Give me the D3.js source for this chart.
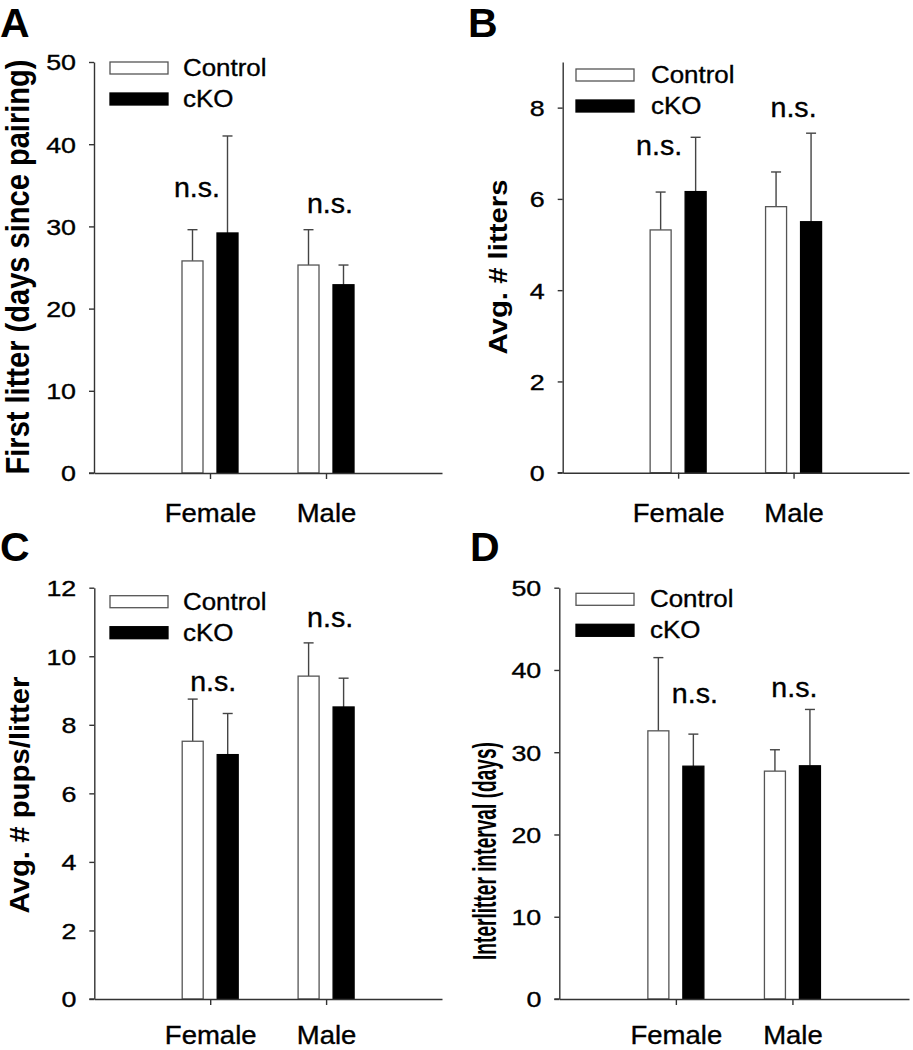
<!DOCTYPE html>
<html><head><meta charset="utf-8">
<script src="https://cdn.jsdelivr.net/npm/d3@7"></script>
<style>
body{margin:0;background:#fff}
svg{display:block}
text{font-family:"Liberation Sans",Arial,sans-serif;fill:#000}
text.reg{stroke:#000;stroke-width:0.35px}
</style>
</head><body>
<svg id="chart" width="913" height="1050"></svg>
<script>
// ---------- DATA ----------
const categories = ["Female", "Male"];
const series = ["Control", "cKO"];

// A: First litter (days since pairing)
const firstLitterControl    = [25.8, 25.3];
const firstLitterControlErr = [3.8, 4.3];
const firstLitterCKO        = [29.2, 22.9];
const firstLitterCKOErr     = [11.8, 2.4];
const firstLitterTicks      = [0, 10, 20, 30, 40, 50];

// B: Avg. # litters
const littersControl    = [5.32, 5.83];
const littersControlErr = [0.83, 0.76];
const littersCKO        = [6.16, 5.50];
const littersCKOErr     = [1.19, 1.94];
const littersTicks      = [0, 2, 4, 6, 8];

// C: Avg. # pups/litter
const pupsControl    = [7.52, 9.42];
const pupsControlErr = [1.23, 0.97];
const pupsCKO        = [7.13, 8.52];
const pupsCKOErr     = [1.20, 0.84];
const pupsTicks      = [0, 2, 4, 6, 8, 10, 12];

// D: Interlitter interval (days)
const intervalControl    = [32.6, 27.7];
const intervalControlErr = [8.9, 2.6];
const intervalCKO        = [28.3, 28.35];
const intervalCKOErr     = [3.9, 6.85];
const intervalTicks      = [0, 10, 20, 30, 40, 50];

// significance annotations (category, value-height of label)
const nsFirstLitter = [{cat: "Female", v: 33.6}, {cat: "Male", v: 31.6}];
const nsLitters     = [{cat: "Female", v: 6.96}, {cat: "Male", v: 7.79}];
const nsPups        = [{cat: "Female", v: 8.99}, {cat: "Male", v: 10.85}];
const nsInterval    = [{cat: "Female", v: 35.97}, {cat: "Male", v: 36.7}];

// ---------- LAYOUT ----------
const panels = [
  {letter: "A", title: "First litter (days since pairing)", ymax: 50, ticks: firstLitterTicks,
   ctrl: firstLitterControl, ctrlErr: firstLitterControlErr, cko: firstLitterCKO, ckoErr: firstLitterCKOErr,
   ns: nsFirstLitter, nsDx: [-13, 4],
   left: 94, right: 442, top: 62, bottom: 473, catDy: 49,
   letterX: 0, letterY: 37, titleX: 18, titleY: 267, titleLen: 415, titleSize: 29, titleK: 1.12,
   legX: 110, legY: 62, legTextX: 183},
  {letter: "B", title: "Avg. # litters", ymax: 9, ticks: littersTicks,
   ctrl: littersControl, ctrlErr: littersControlErr, cko: littersCKO, ckoErr: littersCKOErr,
   ns: nsLitters, nsDx: [-19, 0],
   left: 562.7, right: 909, top: 62, bottom: 472.7, catDy: 49,
   letterX: 468, letterY: 37, titleX: 498, titleY: 267, titleLen: 175, titleSize: 25, titleK: 1.0,
   legX: 576, legY: 69, legTextX: 651},
  {letter: "C", title: "Avg. # pups/litter", ymax: 12, ticks: pupsTicks,
   ctrl: pupsControl, ctrlErr: pupsControlErr, cko: pupsCKO, ckoErr: pupsCKOErr,
   ns: nsPups, nsDx: [3, 4],
   left: 94.3, right: 442, top: 587.7, bottom: 999, catDy: 45,
   letterX: 0, letterY: 561, titleX: 19, titleY: 795, titleLen: 237, titleSize: 28, titleK: 1.0,
   legX: 110, legY: 595.7, legTextX: 183},
  {letter: "D", title: "Interlitter interval (days)", ymax: 50, ticks: intervalTicks,
   ctrl: intervalControl, ctrlErr: intervalControlErr, cko: intervalCKO, ckoErr: intervalCKOErr,
   ns: nsInterval, nsDx: [19, 2],
   left: 559.3, right: 909, top: 587.7, bottom: 999, catDy: 45,
   letterX: 470, letterY: 561, titleX: 485, titleY: 851, titleLen: 218, titleSize: 26, titleK: 1.25,
   legX: 576, legY: 593.3, legTextX: 650}
];

const svg = d3.select("#chart");
const AX = "#333", ERR = "#444";

function drawPanel(p) {
  const g = svg.append("g");
  const y = d3.scaleLinear().domain([0, p.ymax]).range([p.bottom, p.top]);
  const x = d3.scalePoint().domain(categories).range([p.left, p.right]).padding(1);
  const xs = d3.scaleBand().domain(series).range([-28, 28]).paddingInner(0.4).paddingOuter(0);
  const bw = xs.bandwidth();

  const rows = [];
  categories.forEach((c, i) => {
    rows.push({cat: c, s: "Control", v: p.ctrl[i], e: p.ctrlErr[i]});
    rows.push({cat: c, s: "cKO", v: p.cko[i], e: p.ckoErr[i]});
  });

  // error bars
  const eb = g.append("g").attr("stroke", ERR).attr("stroke-width", 1.4).attr("fill", "none");
  rows.forEach(d => {
    const cx = x(d.cat) + xs(d.s) + bw / 2;
    eb.append("line").attr("x1", cx).attr("x2", cx).attr("y1", y(d.v)).attr("y2", y(d.v + d.e));
    eb.append("line").attr("x1", cx - 5).attr("x2", cx + 5).attr("y1", y(d.v + d.e)).attr("y2", y(d.v + d.e));
  });

  // bars
  g.append("g").selectAll("rect").data(rows).join("rect")
    .attr("x", d => x(d.cat) + xs(d.s))
    .attr("y", d => y(d.v))
    .attr("width", bw)
    .attr("height", d => p.bottom - y(d.v))
    .attr("fill", d => d.s === "Control" ? "#fff" : "#000")
    .attr("stroke", d => d.s === "Control" ? "#555" : "#000")
    .attr("stroke-width", 1.3);

  // y axis
  const ya = g.append("g").attr("transform", `translate(${p.left},0)`)
    .call(d3.axisLeft(y).tickValues(p.ticks).tickSize(5).tickSizeOuter(0).tickFormat(d3.format("d")));
  ya.attr("font-family", null).attr("font-size", null);
  ya.select(".domain").attr("stroke", AX).attr("stroke-width", 1.4);
  ya.selectAll(".tick line").attr("stroke", AX).attr("stroke-width", 1.4);
  ya.selectAll(".tick text").attr("x", 0).attr("dy", "0.36em").attr("class", "reg")
    .attr("transform", "translate(-18,0) scale(1.22,1)")
    .style("font-size", "22px");

  // x axis
  const xa = g.append("g").attr("transform", `translate(0,${p.bottom})`)
    .call(d3.axisBottom(x).tickSize(6).tickSizeOuter(0));
  xa.attr("font-family", null).attr("font-size", null);
  xa.select(".domain").attr("stroke", AX).attr("stroke-width", 1.4);
  xa.selectAll(".tick line").attr("stroke", AX).attr("stroke-width", 1.4);
  xa.selectAll(".tick text").attr("y", 0).attr("dy", 0).attr("class", "reg")
    .attr("transform", `translate(0,${p.catDy}) scale(1.1,1)`)
    .style("font-size", "25px");
  g.append("line").attr("x1", p.left - 5).attr("x2", p.left).attr("y1", p.bottom).attr("y2", p.bottom)
    .attr("stroke", AX).attr("stroke-width", 1.4);

  // legend
  const lg = g.append("g");
  series.forEach((s, i) => {
    lg.append("rect").attr("x", p.legX).attr("y", p.legY + i * 31).attr("width", 58).attr("height", 12)
      .attr("fill", s === "Control" ? "#fff" : "#000")
      .attr("stroke", s === "Control" ? "#555" : "#000").attr("stroke-width", 1.3);
    lg.append("text").attr("class", "reg")
      .attr("transform", `translate(${p.legTextX},${p.legY + 14 + i * 31}) scale(1.08,1)`)
      .style("font-size", "24px").text(s);
  });

  // n.s. annotations
  p.ns.forEach((a, i) => {
    g.append("text").attr("text-anchor", "middle").attr("class", "reg")
      .attr("transform", `translate(${x(a.cat) + p.nsDx[i]},${y(a.v)}) scale(1.06,1)`)
      .style("font-size", "27px").text("n.s.");
  });

  // y-axis title
  g.append("text").attr("text-anchor", "middle").attr("dy", "0.35em")
    .attr("transform", `translate(${p.titleX},${p.titleY}) rotate(-90) scale(1,${p.titleK})`)
    .attr("textLength", p.titleLen).attr("lengthAdjust", "spacingAndGlyphs")
    .style("font-size", p.titleSize + "px").style("font-weight", "bold")
    .text(p.title);

  // panel letter
  g.append("text").attr("x", p.letterX).attr("y", p.letterY)
    .style("font-size", "41px").style("font-weight", "bold").text(p.letter);
}

panels.forEach(drawPanel);
</script>
</body></html>
